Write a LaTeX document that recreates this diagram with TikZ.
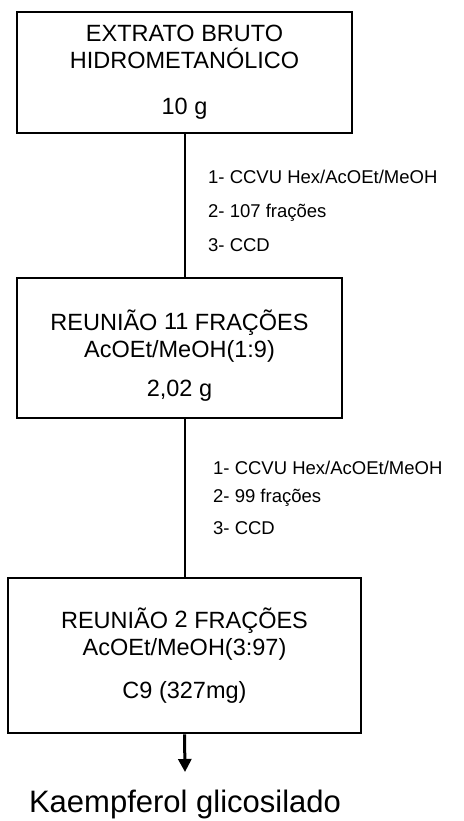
\documentclass[tikz,border=0pt]{standalone}
\usepackage{fontspec}
\setmainfont{Liberation Sans}
\usetikzlibrary{positioning,arrows.meta}
\tikzset{
  etapa/.style={rectangle,draw=black,line width=2.6pt,align=center,inner sep=0pt,font=\fontsize{23.5}{27}\selectfont},
  nota/.style={anchor=west,inner sep=0pt,font=\fontsize{18.5}{22}\selectfont},
  liga/.style={line width=2pt},
  seta/.style={-{Triangle[length=13pt,width=13pt]},line width=3pt},
  final/.style={anchor=base,inner sep=0pt,font=\fontsize{31}{36}\selectfont}
}

\begin{document}
\begin{tikzpicture}[x=1pt,y=-1pt]
  \useasboundingbox (0,0) rectangle (463,821);
  \node[etapa,minimum width=335pt,minimum height=121pt] (extrato) at (184.5,72.5) {EXTRATO BRUTO\\HIDROMETANÓLICO\\[19pt]10 g};
  \node[etapa,minimum width=325pt,minimum height=140pt] (reuniao11) at (179.5,348) {\rule{0pt}{35pt}REUNIÃO \raisebox{1pt}{11} FRAÇÕES\\AcOEt/MeOH(1:9)\\[12pt]2,02 g};
  \node[etapa,minimum width=353pt,minimum height=155pt] (reuniao2) at (184.5,655.5) {REUNIÃO \raisebox{1pt}{2} FRAÇÕES\\AcOEt/MeOH(3:97)\\[16pt]C9 (327mg)};
  \node[final] (kaempferol) at (185,812) {Kaempferol glicosilado};
  \coordinate (ponta) at (185,772);
  % notas das colunas
  \node[nota] (n1a) at (208,177) {1- CCVU Hex/AcOEt/MeOH};
  \node[nota] (n1b) at (208,213) {2- 107 frações};
  \node[nota] (n1c) at (208,245) {3- CCD};
  \node[nota] (n2a) at (213,468) {1- CCVU Hex/AcOEt/MeOH};
  \node[nota] (n2b) at (213,498) {2- 99 frações};
  \node[nota] (n2c) at (213,528) {3- CCD};
  \draw[liga] (extrato.south) -- (extrato.south |- reuniao11.north);
  \draw[liga] (extrato.south |- reuniao11.south) -- (extrato.south |- reuniao2.north);
  \draw[seta] (reuniao2.south -| extrato.south) -- (ponta);
\end{tikzpicture}
\end{document}
